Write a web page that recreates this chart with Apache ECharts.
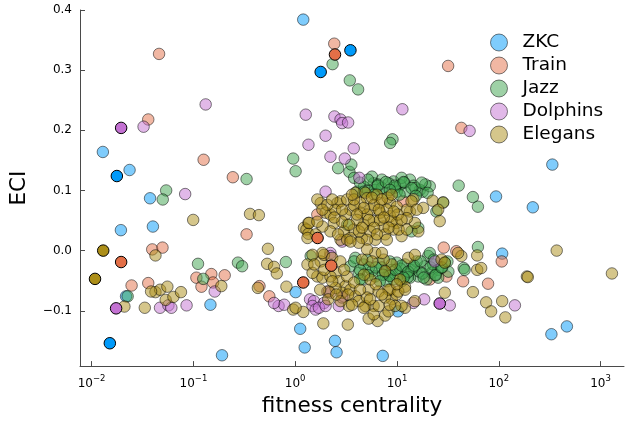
<!DOCTYPE html>
<html>
<head>
<meta charset="utf-8">
<script src="https://cdn.jsdelivr.net/npm/echarts@6/dist/echarts.min.js"></script>
<style>
html, body { margin: 0; padding: 0; background: #ffffff; }
#chart { width: 625px; height: 422px; }
</style>
</head>
<body>
<div id="chart"></div>
<script>
// Network names, colours and axis ticks
const seriesNames = ['ZKC', 'Train', 'Jazz', 'Dolphins', 'Elegans'];
const seriesRGB = [[0, 154, 250], [227, 111, 71], [62, 164, 78], [195, 113, 210], [172, 142, 24]];
const xTicks = [0.01, 0.1, 1, 10, 100, 1000];
const yTicks = [-0.1, 0, 0.1, 0.2, 0.3, 0.4];

// [fitness centrality, ECI] per node
const zkcPoints = [
  [1.20, 0.384], [0.0129, 0.164], [0.0236, 0.134], [0.0375, 0.087], [0.0194, 0.034],
  [0.0400, 0.040], [0.0218, -0.076], [0.147, -0.090], [0.191, -0.174], [1.01, -0.069],
  [1.12, -0.130], [1.24, -0.161], [2.46, -0.150], [2.55, -0.169], [7.25, -0.175],
  [10.2, -0.101], [336, 0.143], [94, 0.090], [216, 0.072], [108, -0.005],
  [467, -0.126], [329, -0.139]
];
const zkcMarked = [[1.78, 0.297], [3.49, 0.333], [0.0177, 0.124], [0.0151, -0.154]];

const trainPoints = [
  [0.046, 0.327], [0.036, 0.218], [0.126, 0.151], [0.244, 0.122], [2.42, 0.344],
  [31.8, 0.307], [42.9, 0.204], [0.0394, 0.002], [0.0497, 0.005], [0.0247, -0.058],
  [0.036, -0.054], [0.333, 0.027], [0.107, -0.045], [0.120, -0.060], [0.150, -0.039],
  [0.156, -0.053], [0.203, -0.041], [0.446, -0.059], [0.557, -0.076], [1.65, 0.060],
  [28.8, 0.005], [38.3, -0.001], [107, -0.018], [78.5, -0.055], [44.6, -0.051],
  [30.6, -0.043], [21.0, -0.048], [11.5, 0.082]
];
const trainMarked = [[2.46, 0.326], [0.0195, -0.019], [1.66, 0.021], [2.26, -0.025], [1.20, -0.053]];

const jazzPoints = [
  [0.054, 0.100], [0.050, 0.085], [0.333, 0.119], [0.955, 0.153], [1.01, 0.132],
  [0.111, -0.022], [0.125, -0.047], [0.0226, -0.076], [0.274, -0.020], [0.301, -0.026],
  [0.81, -0.019], [2.33, 0.310], [3.44, 0.283], [4.15, 0.268], [9.04, 0.185],
  [8.57, 0.179], [2.64, 0.137], [3.41, 0.131], [3.56, 0.143], [40.4, 0.108],
  [55.7, 0.089], [62.4, 0.073], [62.4, 0.006], [45.2, -0.029], [28.4, 0.080],
  [24.4, 0.065], [5.90, 0.112], [5.68, 0.123], [7.11, 0.118], [9.24, 0.115],
  [10.7, 0.109], [13.4, 0.118], [16.8, 0.101], [17.9, 0.098], [21.0, 0.107],
  [7.95, 0.096], [9.96, 0.098], [4.05, 0.098], [6.11, 0.101], [3.24, 0.043],
  [16.2, 0.038], [13.9, 0.032], [12.0, 0.098], [4.74, 0.106], [7.11, 0.104],
  [14.6, 0.108], [11.1, 0.121], [6.5, 0.110], [8.3, 0.112], [11.8, 0.113],
  [15.2, 0.104], [19.0, 0.110], [5.2, 0.100], [9.6, 0.105],
  [3.79, 0.121], [4.33, 0.113], [5.19, 0.118], [6.48, 0.108], [7.77, 0.114],
  [9.52, 0.108], [11.6, 0.114], [13.9, 0.104], [17.5, 0.113], [20.0, 0.096],
  [4.74, 0.098], [5.95, 0.093], [8.5, 0.101], [10.6, 0.093], [15.3, 0.091],
  [1.42, -0.009], [3.49, -0.026], [4.21, -0.037], [4.71, -0.023], [5.68, -0.034],
  [6.6, -0.020], [8.26, -0.040], [8.90, -0.032], [10.3, -0.040], [12.0, -0.023],
  [13.9, -0.032], [16.2, -0.043], [18.8, -0.026], [20.3, -0.009], [21.9, -0.037],
  [25.4, -0.032], [29.5, -0.020], [25.4, -0.045], [11.1, -0.051], [9.24, -0.048],
  [13.4, -0.045], [6.11, -0.043], [46.2, -0.032], [15.6, -0.018], [3.90, -0.012],
  [4.54, -0.048], [7.11, -0.028], [9.96, -0.020], [16.6, -0.035], [22.7, -0.023],
  [32.0, -0.035], [5.08, -0.015], [7.95, -0.051], [12.5, -0.038], [19.5, -0.048],
  [21.0, -0.004], [5.3, -0.028], [7.6, -0.036], [10.8, -0.030], [14.6, -0.028],
  [17.8, -0.038], [23.8, -0.040], [27.8, -0.028], [8.5, -0.042], [12.8, -0.044],
  [3.79, -0.018], [4.33, -0.032], [5.19, -0.041], [6.2, -0.028], [7.27, -0.040],
  [8.5, -0.018], [9.7, -0.032], [11.1, -0.025], [12.9, -0.035], [14.7, -0.025],
  [17.1, -0.018], [21.4, -0.028], [24.0, -0.041], [27.4, -0.028], [31.3, -0.018],
  [4.33, -0.048], [6.78, -0.051], [11.6, -0.045], [18.3, -0.045], [23.0, -0.015]
];

const dolphinPoints = [
  [0.132, 0.243], [0.0324, 0.206], [0.083, 0.094], [0.162, -0.068], [0.0857, -0.091],
  [0.047, -0.095], [0.0568, -0.091], [0.0607, -0.095], [1.27, 0.226], [2.43, 0.223],
  [2.79, 0.218], [2.89, 0.212], [3.31, 0.213], [11.3, 0.235], [51.7, 0.199],
  [1.35, 0.176], [1.99, 0.191], [3.76, 0.170], [2.22, 0.156], [3.07, 0.153],
  [1.99, 0.098], [4.27, 0.121], [0.687, -0.092], [0.78, -0.090], [0.62, -0.087],
  [1.40, -0.081], [1.53, -0.084], [1.48, -0.092], [1.59, -0.098], [1.92, -0.087],
  [2.07, -0.068], [2.68, -0.092], [3.0, -0.076], [2.22, -0.004], [14.5, -0.087],
  [18.5, -0.081], [33.0, -0.091], [23.5, -0.018], [144, -0.091], [1.71, -0.095],
  [1.99, -0.092], [2.22, -0.070], [2.89, -0.078], [2.89, 0.015], [2.22, -0.009]
];
const dolphinMarked = [[0.0195, 0.204], [0.0174, -0.096], [26.3, -0.088]];

const elegansPoints = [
  [0.021, -0.093], [0.0333, -0.095], [0.0424, -0.008], [0.0424, -0.069], [0.0471, -0.065],
  [0.0555, -0.060], [0.0534, -0.082], [0.0636, -0.077], [0.0755, -0.069], [0.0384, -0.068],
  [0.0995, 0.051], [0.36, 0.061], [0.44, 0.059], [0.188, -0.059], [0.43, -0.062],
  [0.54, 0.003], [0.53, -0.022], [0.62, -0.027], [0.66, -0.038], [0.82, -0.060],
  [0.955, -0.098], [1.20, -0.102], [1.22, 0.038], [1.35, 0.046], [1.29, 0.035],
  [1.35, 0.028], [371, 0.000], [1294, -0.038], [189, -0.043], [193, -0.044],
  [55.7, -0.069], [75.2, -0.086], [84.1, -0.101], [108, -0.084], [116, -0.111],
  [61.4, -0.008], [61.4, -0.032], [67.2, -0.029], [29.5, -0.070], [12.0, -0.095],
  [8.9, -0.081], [6.45, -0.117], [5.27, -0.113], [7.65, -0.108], [3.29, -0.123],
  [1.89, -0.121], [22.4, 0.083], [28.4, 0.080], [25.4, 0.068], [26.3, 0.049],
  [18.1, 0.071], [14.5, 0.085], [16.2, 0.032], [15.0, 0.046], [13.4, 0.065],
  [8.57, -0.065], [9.96, -0.073], [12.0, -0.060], [3.37, -0.092], [5.90, -0.092],
  [4.89, -0.092],
  [1.78, 0.079], [1.37, 0.046], [1.99, 0.063], [2.22, 0.060], [2.59, 0.079],
  [2.79, 0.082], [3.90, 0.096], [4.89, 0.096], [5.08, 0.087], [4.37, 0.079],
  [3.49, 0.068], [4.37, 0.063], [5.47, 0.068], [6.84, 0.079], [8.57, 0.079],
  [9.96, 0.073], [6.84, 0.063], [8.57, 0.057], [9.96, 0.046], [9.24, 0.035],
  [7.40, 0.040], [5.90, 0.049], [4.71, 0.043], [3.76, 0.035], [3.0, 0.032],
  [2.40, 0.046], [2.22, 0.032], [2.79, 0.018], [3.49, 0.021], [4.54, 0.021],
  [6.11, 0.018], [7.65, 0.027], [11.1, 0.024], [12.5, 0.068], [13.9, 0.082],
  [15.6, 0.068], [12.5, 0.054], [6.35, 0.093], [3.12, 0.060], [1.85, 0.040],
  [1.59, 0.027], [5.47, 0.032], [8.9, 0.049], [1.65, 0.085], [3.24, 0.085],
  [5.95, 0.076], [7.95, 0.068], [4.05, 0.051], [5.08, 0.060], [6.8, 0.051],
  [2.47, 0.068], [8.1, 0.088], [10.2, 0.060], [3.8, 0.075], [2.89, 0.048],
  [2.07, 0.076], [2.42, 0.055], [2.89, 0.068], [3.38, 0.043], [3.79, 0.085],
  [4.24, 0.032], [4.74, 0.071], [5.31, 0.051], [5.95, 0.038], [6.63, 0.068],
  [7.43, 0.055], [8.3, 0.038], [9.3, 0.065], [10.4, 0.035], [2.64, 0.027],
  [3.24, 0.018], [4.05, 0.060], [5.08, 0.018], [6.35, 0.027], [7.95, 0.018],
  [2.31, 0.085], [3.62, 0.093], [5.68, 0.088], [8.9, 0.093], [11.1, 0.051],
  [12.5, 0.035], [1.85, 0.068], [1.65, 0.048], [4.54, 0.038], [7.11, 0.085],
  [1.01, -0.095], [1.32, -0.023], [1.78, -0.018], [1.92, -0.007], [1.65, -0.043],
  [1.85, -0.045], [1.48, -0.037], [2.49, -0.037], [2.68, -0.051], [3.12, -0.059],
  [2.89, -0.070], [3.49, -0.065], [3.90, -0.076], [4.21, -0.084], [5.27, -0.065],
  [5.08, -0.078], [4.71, -0.095], [5.90, -0.106], [6.6, -0.092], [6.6, -0.068],
  [8.26, -0.065], [7.65, -0.078], [11.1, -0.092], [15.0, -0.084], [8.9, -0.023],
  [7.40, -0.015], [6.11, -0.004], [5.08, 0.002], [7.11, -0.004], [7.65, -0.034],
  [10.7, -0.048], [12.9, -0.012], [15.0, -0.007], [27.4, -0.015], [29.5, -0.020],
  [42.9, -0.009], [39.8, -0.004], [4.21, 0.013], [3.49, 0.015], [1.85, -0.004],
  [2.31, -0.012], [1.48, -0.007], [2.49, -0.062], [2.79, -0.084], [2.14, -0.068],
  [2.22, -0.043], [5.47, -0.048], [3.24, -0.043], [10.3, -0.068], [12.0, -0.065],
  [8.26, -0.101], [9.6, -0.092], [1.32, 0.021],
  [1.54, -0.023], [1.93, -0.032], [2.31, -0.051], [2.77, -0.018], [3.31, -0.073],
  [3.79, -0.053], [4.33, -0.065], [4.74, -0.040], [5.45, -0.081], [6.2, -0.056],
  [7.11, -0.073], [8.5, -0.090], [9.96, -0.056], [2.11, -0.081], [1.76, -0.065],
  [3.62, -0.090], [5.68, -0.018], [4.54, -0.015], [3.03, -0.032], [2.53, -0.073]
];
const elegansMarked = [[0.0108, -0.047], [0.0130, 0.000]];

const FONT = 'DejaVu Sans';
const pointGroups = [zkcPoints, trainPoints, jazzPoints, dolphinPoints, elegansPoints];
const markedGroups = [zkcMarked, trainMarked, [], dolphinMarked, elegansMarked];
const rgba = (c, a) => 'rgba(' + c[0] + ',' + c[1] + ',' + c[2] + ',' + a + ')';

const series = [];
// translucent markers for every node
seriesNames.forEach((name, i) => {
  series.push({
    type: 'scatter', name: name, data: pointGroups[i],
    symbol: 'circle', symbolSize: 11.5, z: 2,
    itemStyle: { color: rgba(seriesRGB[i], 0.5), borderColor: 'rgba(0,0,0,0.5)', borderWidth: 1, opacity: 1 },
    emphasis: { disabled: true }
  });
});
// solid markers for the marked nodes, drawn on top
seriesNames.forEach((name, i) => {
  if (!markedGroups[i].length) return;
  series.push({
    type: 'scatter', name: name + ' marked', data: markedGroups[i],
    symbol: 'circle', symbolSize: 11.5, z: 3,
    itemStyle: { color: rgba(seriesRGB[i], 1), borderColor: '#000', borderWidth: 1, opacity: 1 },
    emphasis: { disabled: true }
  });
});

const axisColor = '#4a4a4a';
const chart = echarts.init(document.getElementById('chart'), null, { renderer: 'canvas' });
chart.setOption({
  animation: false,
  backgroundColor: '#ffffff',
  grid: { left: 76, right: 1, top: 10, bottom: 55, containLabel: false },
  legend: {
    data: seriesNames, orient: 'vertical', left: 490, top: 33, padding: 0,
    itemWidth: 17, itemHeight: 17, itemGap: 4, icon: 'circle', selectedMode: false,
    itemStyle: { borderWidth: 1, opacity: 1 },
    textStyle: { fontFamily: FONT, fontSize: 18.5, color: '#000', lineHeight: 17, padding: [0, 0, 0, 10] }
  },
  xAxis: {
    type: 'log', logBase: 10, min: 0.00769, max: 1700,
    name: 'fitness centrality', nameLocation: 'middle', nameGap: 28,
    nameTextStyle: { fontFamily: FONT, fontSize: 21.5, color: '#000' },
    axisLine: { show: true, onZero: false, lineStyle: { color: axisColor, width: 1 } },
    axisTick: { show: true, inside: true, length: 5, customValues: xTicks, lineStyle: { color: axisColor } },
    axisLabel: {
      customValues: xTicks, margin: 8,
      formatter: v => {
        const e = Math.round(Math.log10(v));
        return '{b|10}{e|' + (e < 0 ? '\u2212' + (-e) : String(e)) + '}';
      },
      rich: {
        b: { fontFamily: FONT, fontSize: 12, color: '#000', verticalAlign: 'bottom' },
        e: { fontFamily: FONT, fontSize: 8.5, color: '#000', verticalAlign: 'bottom', padding: [0, 0, 7, 0] }
      }
    },
    splitLine: { show: false }
  },
  yAxis: {
    type: 'value', min: -0.192, max: 0.4,
    name: 'ECI', nameLocation: 'middle', nameGap: 50, nameRotate: 90,
    nameTextStyle: { fontFamily: FONT, fontSize: 21.5, color: '#000' },
    axisLine: { show: true, onZero: false, lineStyle: { color: axisColor, width: 1 } },
    axisTick: { show: true, inside: true, length: 5, customValues: yTicks, lineStyle: { color: axisColor } },
    axisLabel: {
      customValues: yTicks, margin: 8, fontFamily: FONT, fontSize: 12, color: '#000',
      formatter: v => v.toFixed(1).replace('-', '\u2212')
    },
    splitLine: { show: false }
  },
  tooltip: { show: false },
  series: series
});
</script>
</body>
</html>
